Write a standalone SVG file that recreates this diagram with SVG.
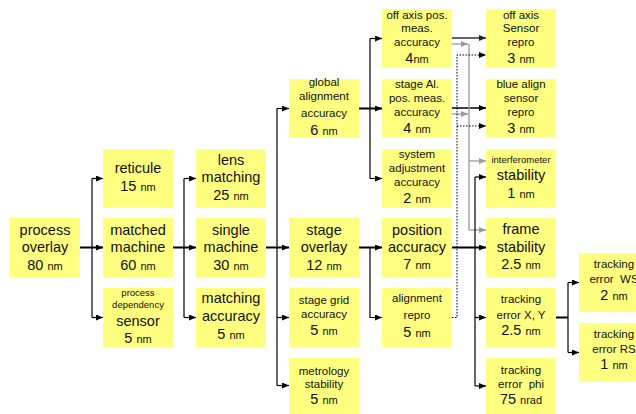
<svg xmlns="http://www.w3.org/2000/svg" width="636" height="414" viewBox="0 0 636 414">
<defs>
<style>
.box{fill:#ffff80;stroke:none}
text{font-family:"Liberation Sans",Arial,sans-serif;fill:#111;text-anchor:middle}
.b{font-size:14.5px}
.m{font-size:11.5px}
.s{font-size:9.5px}
.u{font-size:11px}
.pre{white-space:pre}
.c{fill:none;stroke:#000;stroke-width:1.2}
.t{fill:none;stroke:#000;stroke-width:2}
.g{fill:none;stroke:#999;stroke-width:1.3}
.d{fill:none;stroke:#333;stroke-width:1.5}
.dot{fill:none;stroke:#000;stroke-width:1;stroke-dasharray:1.5 1.5}
</style>
<marker id="ab" markerUnits="userSpaceOnUse" markerWidth="7" markerHeight="6" refX="7" refY="3" orient="auto"><path d="M0,0 L7,3 L0,6 z" fill="#000"/></marker>
<marker id="ag" markerUnits="userSpaceOnUse" markerWidth="7" markerHeight="6" refX="7" refY="3" orient="auto"><path d="M0,0 L7,3 L0,6 z" fill="#999"/></marker>
<marker id="ad" markerUnits="userSpaceOnUse" markerWidth="7" markerHeight="6" refX="7" refY="3" orient="auto"><path d="M0,0 L7,3 L0,6 z" fill="#222"/></marker>
</defs>
<rect width="636" height="414" fill="#fff"/>

<g id="connectors">
<path class="t" d="M80,247.5 H103" marker-end="url(#ab)"/>
<path class="c" d="M92,178.5 V317.5"/>
<path class="c" d="M92,178.5 H103" marker-end="url(#ab)"/>
<path class="c" d="M92,317.5 H103" marker-end="url(#ab)"/>

<path class="t" d="M173,247.5 H196" marker-end="url(#ab)"/>
<path class="c" d="M184,178.5 V317.5"/>
<path class="c" d="M184,178.5 H196" marker-end="url(#ab)"/>
<path class="c" d="M184,317.5 H196" marker-end="url(#ab)"/>

<path class="t" d="M266,247.5 H289" marker-end="url(#ab)"/>
<path class="c" d="M277,108.5 V385.5"/>
<path class="c" d="M277,108.5 H289" marker-end="url(#ab)"/>
<path class="c" d="M277,317.5 H289" marker-end="url(#ab)"/>
<path class="c" d="M277,385.5 H289" marker-end="url(#ab)"/>

<path class="t" d="M359,108.5 H382" marker-end="url(#ab)"/>
<path class="c" d="M370,38.5 V178.5"/>
<path class="c" d="M370,38.5 H382" marker-end="url(#ab)"/>
<path class="c" d="M370,178.5 H382" marker-end="url(#ab)"/>

<path class="t" d="M359,247.5 H382" marker-end="url(#ab)"/>
<path class="c" d="M370,247.5 V317.5 H382" marker-end="url(#ab)"/>

<path class="d" d="M452,38 H486" marker-end="url(#ad)"/>
<path class="c" d="M452,108 H486" marker-end="url(#ab)" style="stroke-width:1.5"/>

<path class="g" d="M452,44 H468" marker-end="url(#ag)"/>
<path class="g" d="M452,114 H468" marker-end="url(#ag)"/>
<path class="g" d="M469,44 V230"/>
<path class="g" d="M469,161 H486" marker-end="url(#ag)"/>
<path class="g" d="M469,230 H486" marker-end="url(#ag)"/>

<path class="dot" d="M452,317.5 H457 V55 H486" marker-end="url(#ab)"/>
<path class="dot" d="M457,126 H486" marker-end="url(#ab)"/>

<path class="t" d="M452,247.5 H486" marker-end="url(#ab)"/>
<path class="c" d="M475,177 V386"/>
<path class="c" d="M475,177 H486" marker-end="url(#ab)"/>
<path class="c" d="M475,317.5 H486" marker-end="url(#ab)"/>
<path class="c" d="M475,386 H486" marker-end="url(#ab)"/>

<path class="t" d="M556,317.5 H568"/>
<path class="c" d="M568,282.5 V352.5"/>
<path class="c" d="M568,282.5 H579" marker-end="url(#ab)"/>
<path class="c" d="M568,352.5 H579" marker-end="url(#ab)"/>
</g>

<g id="process-overlay"><rect class="box" x="10" y="218" width="70" height="59"/>
<text class="b" x="45" y="235">process</text><text class="b" x="45" y="252">overlay</text><text class="b" x="45" y="270">80 <tspan class="u">nm</tspan></text></g>

<g id="reticule"><rect class="box" x="103" y="149" width="70" height="59"/>
<text class="b" x="138" y="173">reticule</text><text class="b" x="138" y="191">15 <tspan class="u">nm</tspan></text></g>

<g id="matched-machine"><rect class="box" x="103" y="218" width="70" height="59"/>
<text class="b" x="138" y="235">matched</text><text class="b" x="138" y="252">machine</text><text class="b" x="138" y="270">60 <tspan class="u">nm</tspan></text></g>

<g id="sensor"><rect class="box" x="103" y="288" width="70" height="59"/>
<text class="s" x="138" y="296">process</text><text class="s" x="138" y="308">dependency</text><text class="b" x="138" y="326">sensor</text><text class="b" x="138" y="343">5 <tspan class="u">nm</tspan></text></g>

<g id="lens-matching"><rect class="box" x="196" y="149" width="70" height="59"/>
<text class="b" x="231" y="165">lens</text><text class="b" x="231" y="182">matching</text><text class="b" x="231" y="200">25 <tspan class="u">nm</tspan></text></g>

<g id="single-machine"><rect class="box" x="196" y="218" width="70" height="59"/>
<text class="b" x="231" y="235">single</text><text class="b" x="231" y="252">machine</text><text class="b" x="231" y="270">30 <tspan class="u">nm</tspan></text></g>

<g id="matching-accuracy"><rect class="box" x="196" y="288" width="70" height="59"/>
<text class="b" x="231" y="303">matching</text><text class="b" x="231" y="321">accuracy</text><text class="b" x="231" y="339">5 <tspan class="u">nm</tspan></text></g>

<g id="global-alignment"><rect class="box" x="289" y="79" width="70" height="59"/>
<text class="m" x="324" y="86">global</text><text class="m" x="324" y="100">alignment</text><text class="m" x="324" y="117">accuracy</text><text class="b" x="324" y="135">6 <tspan class="u">nm</tspan></text></g>

<g id="stage-overlay"><rect class="box" x="289" y="218" width="70" height="59"/>
<text class="b" x="324" y="235">stage</text><text class="b" x="324" y="252">overlay</text><text class="b" x="324" y="270">12 <tspan class="u">nm</tspan></text></g>

<g id="stage-grid"><rect class="box" x="289" y="288" width="70" height="59"/>
<text class="m" x="324" y="304">stage grid</text><text class="m" x="324" y="318">accuracy</text><text class="b" x="324" y="335">5 <tspan class="u">nm</tspan></text></g>

<g id="metrology-stability"><rect class="box" x="289" y="358" width="70" height="59"/>
<text class="m" x="324" y="375">metrology</text><text class="m" x="324" y="388">stability</text><text class="b" x="324" y="404">5 <tspan class="u">nm</tspan></text></g>

<g id="off-axis-pos"><rect class="box" x="382" y="9" width="70" height="59"/>
<text class="m" x="417" y="19">off axis pos.</text><text class="m" x="417" y="32">meas.</text><text class="m" x="417" y="46">accuracy</text><text class="b" x="417" y="63">4<tspan class="u">nm</tspan></text></g>

<g id="stage-al"><rect class="box" x="382" y="79" width="70" height="59"/>
<text class="m" x="417" y="88">stage Al.</text><text class="m" x="417" y="102">pos. meas.</text><text class="m" x="417" y="116">accuracy</text><text class="b" x="417" y="133">4 <tspan class="u">nm</tspan></text></g>

<g id="system-adjustment"><rect class="box" x="382" y="149" width="70" height="59"/>
<text class="m" x="417" y="158">system</text><text class="m" x="417" y="172">adjustment</text><text class="m" x="417" y="186">accuracy</text><text class="b" x="417" y="203">2 <tspan class="u">nm</tspan></text></g>

<g id="position-accuracy"><rect class="box" x="382" y="218" width="70" height="59"/>
<text class="b" x="417" y="235">position</text><text class="b" x="417" y="252">accuracy</text><text class="b" x="417" y="269">7 <tspan class="u">nm</tspan></text></g>

<g id="alignment-repro"><rect class="box" x="382" y="288" width="70" height="59"/>
<text class="m" x="417" y="302">alignment</text><text class="m" x="417" y="319">repro</text><text class="b" x="417" y="337">5 <tspan class="u">nm</tspan></text></g>

<g id="off-axis-sensor"><rect class="box" x="486" y="9" width="70" height="59"/>
<text class="m" x="521" y="19">off axis</text><text class="m" x="521" y="32">Sensor</text><text class="m" x="521" y="46">repro</text><text class="b" x="521" y="63">3 <tspan class="u">nm</tspan></text></g>

<g id="blue-align"><rect class="box" x="486" y="79" width="70" height="59"/>
<text class="m" x="521" y="88">blue align</text><text class="m" x="521" y="102">sensor</text><text class="m" x="521" y="116">repro</text><text class="b" x="521" y="133">3 <tspan class="u">nm</tspan></text></g>

<g id="interferometer"><rect class="box" x="486" y="149" width="70" height="59"/>
<text class="s" x="521" y="163">interferometer</text><text class="b" x="521" y="180">stability</text><text class="b" x="521" y="198">1 <tspan class="u">nm</tspan></text></g>

<g id="frame-stability"><rect class="box" x="486" y="218" width="70" height="59"/>
<text class="b" x="521" y="234">frame</text><text class="b" x="521" y="252">stability</text><text class="b" x="521" y="269">2.5 <tspan class="u">nm</tspan></text></g>

<g id="tracking-xy"><rect class="box" x="486" y="288" width="70" height="59"/>
<text class="m" x="521" y="303">tracking</text><text class="m" x="521" y="319">error X, Y</text><text class="b" x="521" y="335">2.5 <tspan class="u">nm</tspan></text></g>

<g id="tracking-phi"><rect class="box" x="486" y="358" width="70" height="59"/>
<text class="m" x="521" y="374">tracking</text><text class="m pre" x="521" y="388">error  phi</text><text class="b" x="521" y="404">75 <tspan class="u">nrad</tspan></text></g>

<g id="tracking-ws"><rect class="box" x="579" y="253" width="70" height="59"/>
<text class="m" x="614" y="268">tracking</text><text class="m pre" x="614" y="283">error  WS</text><text class="b" x="614" y="300">2 <tspan class="u">nm</tspan></text></g>

<g id="tracking-rs"><rect class="box" x="579" y="323" width="70" height="59"/>
<text class="m" x="614" y="338">tracking</text><text class="m" x="614" y="353">error RS</text><text class="b" x="614" y="369">1 <tspan class="u">nm</tspan></text></g>
</svg>
